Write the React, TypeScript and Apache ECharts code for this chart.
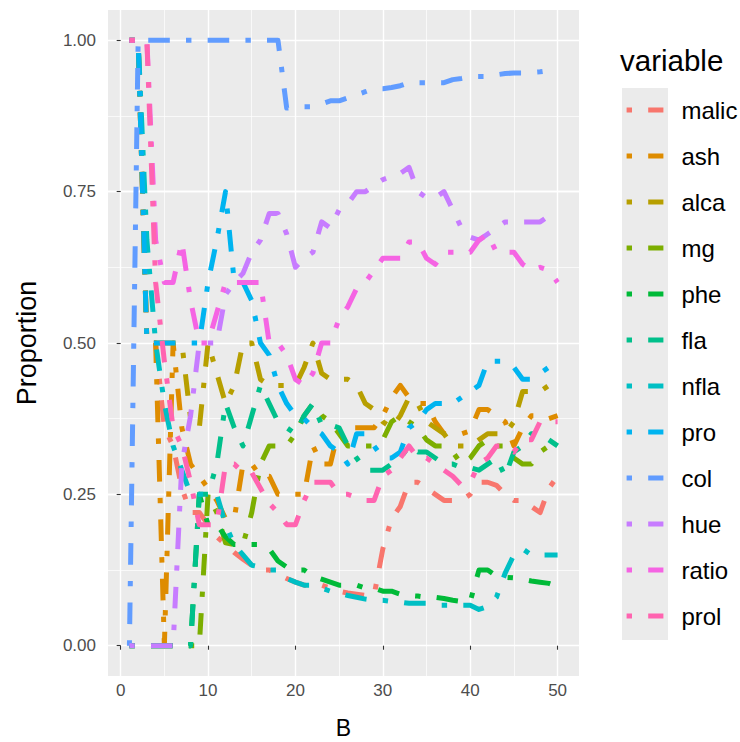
import React, { useEffect, useRef } from "react";
import * as echarts from "echarts";

const B = [1, 2, 3, 4, 5, 6, 7, 8, 9, 10, 11, 12, 13, 14, 15, 16, 17, 18, 19, 20, 21, 22, 23, 24, 25,
  26, 27, 28, 29, 30, 31, 32, 33, 34, 35, 36, 37, 38, 39, 40, 41, 42, 43, 44, 45, 46, 47, 48, 49, 50];

const malic = [1.0, 1.0, 0.5, 0.5, 0.36, 0.33, 0.26, 0.22, 0.22, 0.2,
  0.18, 0.167, 0.154, 0.143, 0.133, 0.125, 0.125, 0.118, 0.111, 0.105,
  0.1, 0.1, 0.1, 0.095, 0.09, 0.087, 0.085, 0.083, 0.083, 0.16,
  0.21, 0.23, 0.27, 0.27, 0.26, 0.25, 0.24, 0.24, 0.24, 0.25,
  0.27, 0.27, 0.265, 0.25, 0.24, 0.24, 0.23, 0.22, 0.26, 0.28];
const ash = [1.0, 1.0, 0.5, 0.5, 0.0, 0.5, 0.36, 0.3, 0.28, 0.26,
  0.24, 0.21, 0.21, 0.3, 0.3, 0.28, 0.28, 0.25, 0.25, 0.25,
  0.25, 0.33, 0.3, 0.3, 0.36, 0.36, 0.36, 0.36, 0.36, 0.38,
  0.41, 0.43, 0.41, 0.4, 0.4, 0.37, 0.35, 0.35, 0.35, 0.355,
  0.39, 0.39, 0.38, 0.37, 0.33, 0.36, 0.38, 0.38, 0.375, 0.38];
const alca = [1.0, 1.0, 0.5, 0.5, 0.5, 0.5, 0.5, 0.375, 0.36, 0.5,
  0.45, 0.4, 0.43, 0.5, 0.5, 0.44, 0.43, 0.43, 0.43, 0.43,
  0.46, 0.5, 0.45, 0.44, 0.44, 0.44, 0.43, 0.4, 0.39, 0.37,
  0.36, 0.38, 0.41, 0.4, 0.37, 0.36, 0.35, 0.33, 0.33, 0.33,
  0.34, 0.35, 0.35, 0.35, 0.37, 0.42, 0.42, 0.42, 0.43, 0.44];
const mg = [0, 0, 0, 0, 0, 0, 0, 0, 0, 0.25,
  0.22, 0.17, 0.167, 0.167, 0.22, 0.3, 0.33, 0.33, 0.33, 0.35,
  0.38, 0.4, 0.38, 0.37, 0.35, 0.33, 0.33, 0.33, 0.33, 0.34,
  0.37, 0.38, 0.37, 0.36, 0.34, 0.33, 0.33, 0.32, 0.3, 0.31,
  0.33, 0.34, 0.33, 0.33, 0.31, 0.3, 0.3, 0.32, 0.33, 0.34];
const phe = [0, 0, 0, 0, 0, 0, 0, 0, 0.25, 0.2,
  0.2, 0.18, 0.167, 0.167, 0.167, 0.167, 0.16, 0.14, 0.13, 0.125,
  0.125, 0.115, 0.11, 0.105, 0.1, 0.1, 0.1, 0.095, 0.095, 0.09,
  0.09, 0.085, 0.083, 0.082, 0.08, 0.08, 0.078, 0.075, 0.073, 0.073,
  0.125, 0.125, 0.115, 0.113, 0.112, 0.11, 0.107, 0.105, 0.103, 0.098];
const fla = [0, 0, 0, 0, 0, 0, 0, 0, 0.25, 0.25,
  0.3, 0.4, 0.36, 0.33, 0.38, 0.43, 0.4, 0.37, 0.36, 0.35,
  0.38, 0.4, 0.365, 0.365, 0.36, 0.33, 0.31, 0.29, 0.29, 0.29,
  0.3, 0.31, 0.33, 0.32, 0.32, 0.31, 0.3, 0.3, 0.294, 0.294,
  0.29, 0.3, 0.31, 0.28, 0.32, 0.33, 0.35, 0.35, 0.34, 0.33];
const nfla = [1.0, 1.0, 0.67, 0.5, 0.4, 0.33, 0.29, 0.25, 0.25, 0.25,
  0.25, 0.2, 0.167, 0.15, 0.133, 0.13, 0.125, 0.125, 0.111, 0.105,
  0.1, 0.1, 0.095, 0.09, 0.087, 0.083, 0.08, 0.077, 0.075, 0.075,
  0.073, 0.072, 0.07, 0.07, 0.07, 0.067, 0.067, 0.067, 0.067, 0.067,
  0.06, 0.065, 0.08, 0.12, 0.15, 0.16, 0.15, 0.15, 0.15, 0.15];
const pro = [1.0, 1.0, 0.5, 0.5, 0.5, 0.5, 0.5, 0.5, 0.5, 0.6,
  0.67, 0.75, 0.6, 0.6, 0.57, 0.5, 0.48, 0.43, 0.4, 0.38,
  0.375, 0.36, 0.35, 0.33, 0.32, 0.3, 0.35, 0.35, 0.33, 0.31,
  0.31, 0.32, 0.36, 0.37, 0.39, 0.4, 0.4, 0.4, 0.41, 0.42,
  0.43, 0.47, 0.47, 0.47, 0.46, 0.44, 0.44, 0.45, 0.46, 0.47];
const col = [0, 1, 1, 1, 1, 1, 1, 1, 1, 1,
  1, 1, 1, 1, 1, 1, 1, 1, 0.888, 0.889,
  0.89, 0.89, 0.895, 0.9, 0.9, 0.905, 0.91, 0.915, 0.92, 0.92,
  0.922, 0.925, 0.93, 0.93, 0.93, 0.93, 0.93, 0.935, 0.937, 0.94,
  0.94, 0.94, 0.943, 0.945, 0.946, 0.946, 0.947, 0.948, 0.95, 0.95];
const hue = [0, 0, 0, 0, 0, 0, 0.3, 0.38, 0.5, 0.5,
  0.5, 0.58, 0.6, 0.615, 0.65, 0.67, 0.714, 0.714, 0.68, 0.625,
  0.64, 0.65, 0.7, 0.69, 0.72, 0.73, 0.75, 0.75, 0.76, 0.77,
  0.775, 0.78, 0.79, 0.75, 0.74, 0.74, 0.75, 0.72, 0.69, 0.675,
  0.67, 0.68, 0.69, 0.7, 0.7, 0.7, 0.7, 0.7, 0.71, 0.715];
const ratio = [1.0, 1.0, 1.0, 0.67, 0.6, 0.6, 0.667, 0.57, 0.5, 0.5,
  0.55, 0.6, 0.6, 0.6, 0.6, 0.6, 0.5, 0.5, 0.48, 0.44,
  0.43, 0.45, 0.5, 0.5, 0.54, 0.56, 0.59, 0.6, 0.62, 0.64,
  0.64, 0.64, 0.667, 0.667, 0.64, 0.63, 0.65, 0.65, 0.65, 0.65,
  0.67, 0.68, 0.65, 0.65, 0.65, 0.63, 0.62, 0.625, 0.62, 0.6];
const prol = [1.0, 1.0, 1.0, 0.6, 0.47, 0.36, 0.33, 0.27, 0.2, 0.2,
  0.2, 0.3, 0.3, 0.286, 0.286, 0.26, 0.235, 0.22, 0.2, 0.2,
  0.24, 0.27, 0.27, 0.27, 0.25, 0.25, 0.245, 0.24, 0.24, 0.28,
  0.29, 0.31, 0.33, 0.31, 0.31, 0.3, 0.29, 0.28, 0.265, 0.27,
  0.3, 0.31, 0.33, 0.33, 0.32, 0.34, 0.34, 0.37, 0.37, 0.37];

const variables = ["malic", "ash", "alca", "mg", "phe", "fla", "nfla", "pro", "col", "hue", "ratio", "prol"];
const colors = ["#F8766D", "#DE8C00", "#B79F00", "#7CAE00", "#00BA38", "#00C08B",
  "#00BFC4", "#00B4F0", "#619CFF", "#C77CFF", "#F564E3", "#FF64B0"];
const xTicks = [0, 10, 20, 30, 40, 50];
const yTicks = [0, 0.25, 0.5, 0.75, 1];

const FONT = "'Liberation Sans', Arial, Helvetica, sans-serif";

export default function App() {
  const ref = useRef<HTMLDivElement>(null);
  useEffect(() => {
    if (!ref.current) return;
    const chart = echarts.init(ref.current, null, { renderer: "svg" });
    const lists = [malic, ash, alca, mg, phe, fla, nfla, pro, col, hue, ratio, prol];
    const series = variables.map((name, k) => ({
      name,
      type: "line",
      data: B.map((b, i) => [b, lists[k][i]]),
      symbol: "none",
      showSymbol: false,
      color: colors[k],
      lineStyle: { width: 5, color: colors[k], type: [5.4, 16.2, 21.6, 16.2], cap: "butt", join: "round" },
      emphasis: { disabled: true },
      silent: true,
      xAxisIndex: 0,
      yAxisIndex: 0,
    }));
    const option = {
      animation: false,
      backgroundColor: "#FFFFFF",
      textStyle: { fontFamily: FONT },
      title: {
        text: "variable",
        left: 615,
        top: 40,
        textStyle: { fontFamily: FONT, fontSize: 29.5, fontWeight: "normal", color: "#000000" },
      },
      grid: {
        left: 108, top: 10, width: 471, height: 666,
        show: true, backgroundColor: "#EBEBEB", borderWidth: 0,
        containLabel: false,
        outerBoundsMode: "none",
      },
      legend: {
        orient: "vertical",
        left: 621.6,
        top: 92,
        itemWidth: 36.8,
        itemHeight: 5,
        itemGap: 20,
        icon: "path://M0,0H5.4V5H0Z M21.6,0H36.8V5H21.6Z",
        data: variables,
        selectedMode: false,
        textStyle: { fontFamily: FONT, fontSize: 24, color: "#000000", lineHeight: 26, padding: [0, 0, 0, 13] },
      },
      graphic: [
        { type: "rect", left: 622, top: 88, z: 0, shape: { width: 46, height: 552 }, style: { fill: "#EBEBEB" }, silent: true },
      ],
      xAxis: [
        {
          type: "value", min: -1.45, max: 52.45, splitNumber: 5,
          name: "B", nameLocation: "middle", nameGap: 42,
          nameTextStyle: { fontFamily: FONT, fontSize: 23, lineHeight: 20, color: "#000000" },
          axisLine: { show: false },
          axisTick: { show: true, length: 4, lineStyle: { color: "#333333", width: 1.1 }, customValues: xTicks },
          axisLabel: { customValues: xTicks, color: "#4D4D4D", fontSize: 17, margin: 6, fontFamily: FONT },
          splitLine: { show: true, lineStyle: { color: "#FFFFFF", width: 1.4 } },
          minorTick: { show: false, splitNumber: 2 },
          minorSplitLine: { show: true, lineStyle: { color: "#FFFFFF", width: 0.7 } },
        },
      ],
      yAxis: [
        {
          type: "value", min: -0.05, max: 1.05, splitNumber: 2,
          name: "Proportion", nameLocation: "middle", nameGap: 68, nameRotate: 90,
          nameTextStyle: { fontFamily: FONT, fontSize: 27, color: "#000000" },
          axisLine: { show: false },
          axisTick: { show: true, length: 4, lineStyle: { color: "#333333", width: 1.1 }, customValues: yTicks },
          axisLabel: { customValues: yTicks, color: "#4D4D4D", fontSize: 17, margin: 12, fontFamily: FONT,
            formatter: (v: number) => v.toFixed(2) },
          splitLine: { show: true, lineStyle: { color: "#FFFFFF", width: 1.4 } },
          minorTick: { show: false, splitNumber: 2 },
          minorSplitLine: { show: true, lineStyle: { color: "#FFFFFF", width: 1.4 } },
        },
        {
          type: "value", min: -0.05, max: 1.05, splitNumber: 2, position: "right",
          axisLine: { show: false }, axisTick: { show: false }, axisLabel: { show: false },
          splitLine: { show: false },
          minorTick: { show: false, splitNumber: 4 },
          minorSplitLine: { show: true, lineStyle: { color: "#FFFFFF", width: 0.7 } },
        },
      ],
      series,
    };
    chart.setOption(option as any);
    return () => chart.dispose();
  }, []);
  return (
    <div
      ref={ref}
      style={{ position: "absolute", left: 0, top: 0, width: 740, height: 742, background: "#FFFFFF" }}
    />
  );
}
